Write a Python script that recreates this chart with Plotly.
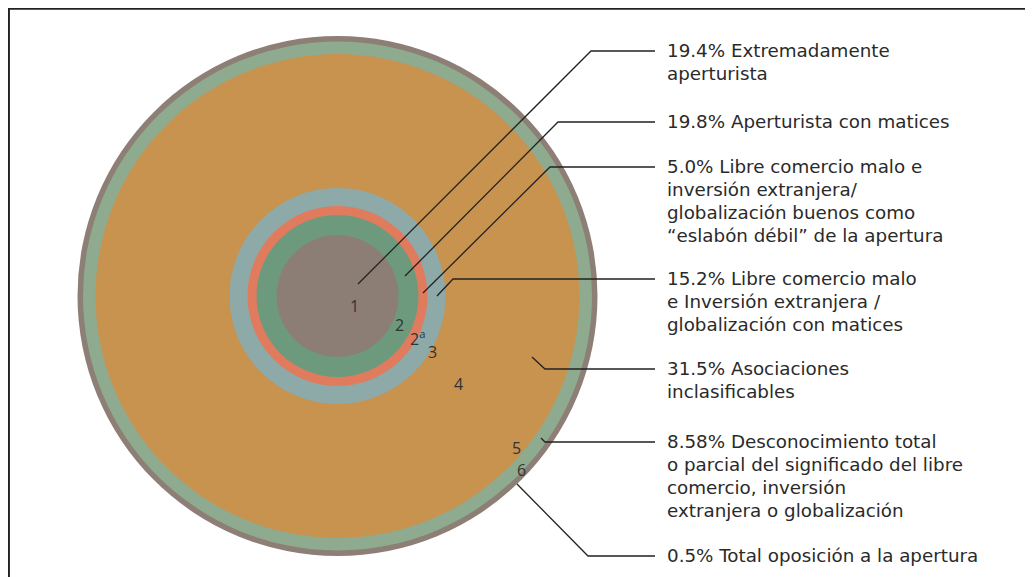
import plotly.graph_objects as go

# ---------------- data ----------------
ring_ids = ["1", "2", "2<sup>a</sup>", "3", "4", "5", "6"]
percentages = [19.4, 19.8, 5.0, 15.2, 31.5, 8.58, 0.5]
pct_labels = ["19.4%", "19.8%", "5.0%", "15.2%", "31.5%", "8.58%", "0.5%"]
descriptions = [
    "Extremadamente\naperturista",
    "Aperturista con matices",
    "Libre comercio malo e\ninversión extranjera/\nglobalización buenos como\n“eslabón débil” de la apertura",
    "Libre comercio malo\ne Inversión extranjera /\nglobalización con matices",
    "Asociaciones\ninclasificables",
    "Desconocimiento total\no parcial del significado del libre\ncomercio, inversión\nextranjera o globalización",
    "Total oposición a la apertura",
]

# ---------------- layout / style ----------------
W, H = 1033, 577
OFF = 8  # page body margin
CX, CY = 337.5, 296
# ring outer radii (illustrative, not proportional), drawn from outside in
ring_radius = {"6": 260, "5": 254.5, "4": 242, "3": 108, "2<sup>a</sup>": 90, "2": 81, "1": 61}
ring_color = {
    "6": "#8d7f76",
    "5": "#8fab8f",
    "4": "#c8924f",
    "3": "#8daaa9",
    "2<sup>a</sup>": "#e07b5d",
    "2": "#6d9a7c",
    "1": "#8c7e74",
}
# ring number label positions
num_pos = {
    "1": (354, 306), "2": (399, 325), "2<sup>a</sup>": (417, 338), "3": (432, 352),
    "4": (458, 384), "5": (516, 448), "6": (521, 470),
}
# leader lines: (text row y, bend x, end x, end y)
leaders = [
    (51, 591, 358, 284),
    (122, 558, 405, 276),
    (167, 550, 423, 293),
    (279, 453, 437, 296),
    (369, 545, 532, 357),
    (442, 545, 541, 438),
    (556, 588, 517, 484),
]
LINE_END_X = 655
TEXT_X = 665
LINE_H = 23
TEXT_COLOR = "#2a2a2a"
FONT = "DejaVu Sans"
NUM_FONT = "Open Sans"

fig = go.Figure()

shapes = []
for rid in ["6", "5", "4", "3", "2<sup>a</sup>", "2", "1"]:
    r = ring_radius[rid]
    shapes.append(dict(type="circle", xref="x", yref="y",
                       x0=CX - r, x1=CX + r, y0=CY - r, y1=CY + r,
                       fillcolor=ring_color[rid], line=dict(width=0), layer="below"))

for (ly, bx, ex, ey) in leaders:
    shapes.append(dict(type="path", xref="x", yref="y",
                       path=f"M {LINE_END_X} {ly} L {bx} {ly} L {ex} {ey}",
                       line=dict(color="#222222", width=1.3)))

# frame (top and left lines) at the figure edge
shapes.append(dict(type="line", xref="paper", yref="paper", x0=0, x1=1, y0=0.9985, y1=0.9985,
                   line=dict(color="#222222", width=2)))
shapes.append(dict(type="line", xref="paper", yref="paper", x0=0.0009, x1=0.0009, y0=0, y1=1,
                   line=dict(color="#222222", width=2)))

annotations = []
for rid in ring_ids:
    x, y = num_pos[rid]
    annotations.append(dict(x=x, y=y, xref="x", yref="y", text=rid, showarrow=False,
                            xanchor="center", yanchor="middle",
                            font=dict(family=NUM_FONT, size=16, color="#333333")))

for i, (pct, desc) in enumerate(zip(pct_labels, descriptions)):
    lines = desc.split("\n")
    lines[0] = f"{pct} {lines[0]}"
    y0 = leaders[i][0] - 1
    for k, ln in enumerate(lines):
        annotations.append(dict(x=TEXT_X, y=y0 + k * LINE_H, xref="x", yref="y", text=ln,
                                showarrow=False, xanchor="left", yanchor="middle",
                                font=dict(family=FONT, size=18.3, color=TEXT_COLOR)))

fig.update_layout(
    width=W - OFF, height=H - OFF,
    margin=dict(l=0, r=0, t=0, b=0),
    paper_bgcolor="white", plot_bgcolor="white",
    xaxis=dict(range=[OFF, W], visible=False, fixedrange=True),
    yaxis=dict(range=[H, OFF], visible=False, fixedrange=True),
    shapes=shapes, annotations=annotations, showlegend=False,
)

fig.write_html("out.html", config={"displayModeBar": False})
